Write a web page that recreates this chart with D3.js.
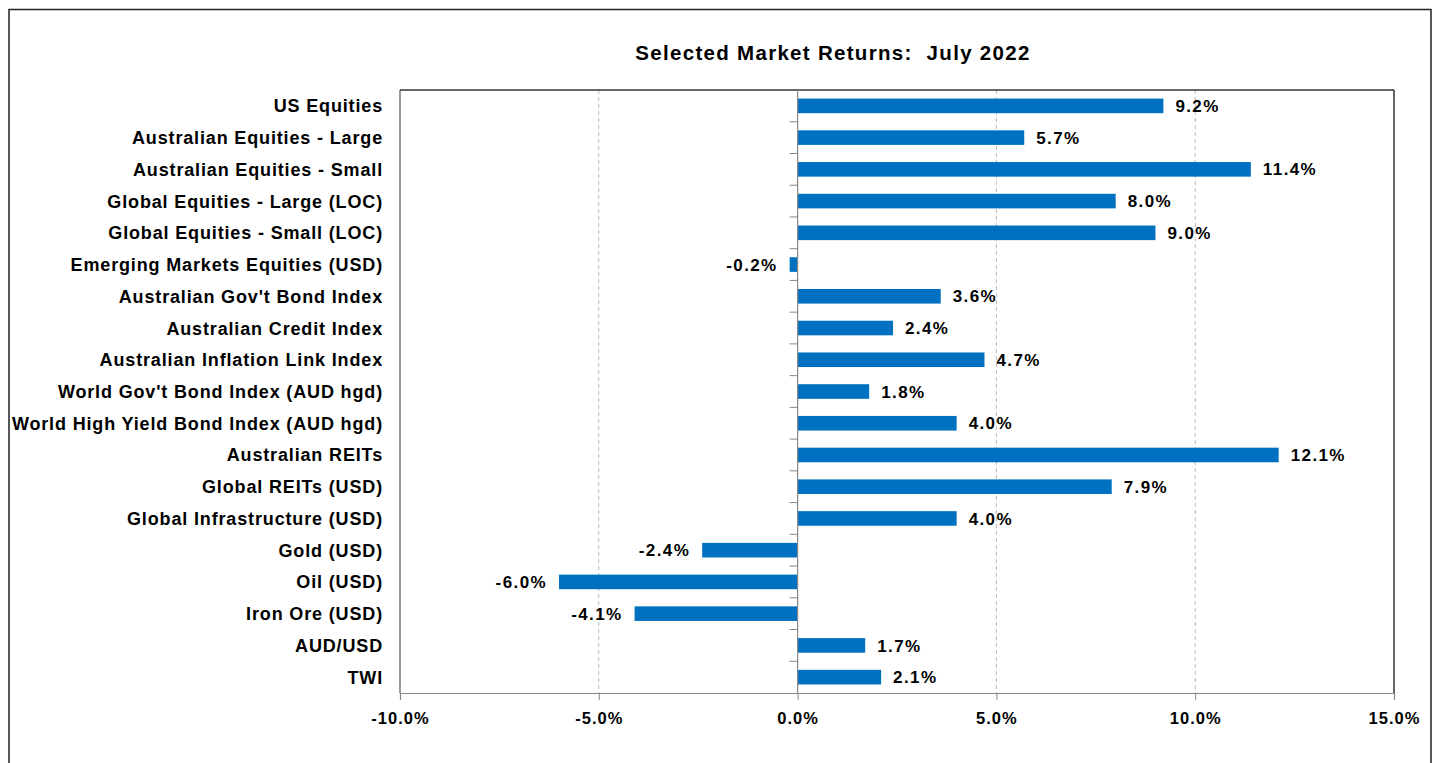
<!DOCTYPE html>
<html>
<head>
<meta charset="utf-8">
<script src="https://cdn.jsdelivr.net/npm/d3@7"></script>
<style>
  body { margin: 0; background: #fff; }
  text { font-family: "Liberation Sans", Arial, sans-serif; font-weight: bold; fill: #000; }
</style>
</head>
<body>
<div id="chart"></div>
<script>
// Chart data
const categories = [
    "US Equities", "Australian Equities - Large", "Australian Equities - Small",
    "Global Equities - Large (LOC)", "Global Equities - Small (LOC)",
    "Emerging Markets Equities (USD)", "Australian Gov't Bond Index",
    "Australian Credit Index", "Australian Inflation Link Index",
    "World Gov't Bond Index (AUD hgd)", "World High Yield Bond Index (AUD hgd)",
    "Australian REITs", "Global REITs (USD)", "Global Infrastructure (USD)",
    "Gold (USD)", "Oil (USD)", "Iron Ore (USD)", "AUD/USD", "TWI"
]
const returns = [9.2, 5.7, 11.4, 8.0, 9.0, -0.2, 3.6, 2.4, 4.7, 1.8, 4.0, 12.1, 7.9, 4.0, -2.4, -6.0, -4.1, 1.7, 2.1]
const xTicks = [-10, -5, 0, 5, 10, 15]
const title = "Selected Market Returns:  July 2022"

const W = 1437, H = 763
const plot = { left: 400, right: 1394, top: 90, bottom: 693 }

const svg = d3.select("#chart").append("svg")
    .attr("width", W)
    .attr("height", H)

// Outer chart border
svg.append("rect")
    .attr("x", 9).attr("y", 9.5)
    .attr("width", 1422).attr("height", 780)
    .attr("fill", "none")
    .attr("stroke", "#222")
    .attr("stroke-width", 1.5)

// Title
svg.append("text")
    .attr("x", 833).attr("y", 60)
    .attr("text-anchor", "middle")
    .style("font-size", "20.5px")
    .style("letter-spacing", "1.3px")
    .style("white-space", "pre")
    .text(title)

// Scales
const x = d3.scaleLinear().domain([-10, 15]).range([plot.left, plot.right])
const y = d3.scaleBand().domain(categories).range([plot.top, plot.bottom]).paddingInner(0.54).paddingOuter(0.27)
const band = d3.scaleBand().domain(categories).range([plot.top, plot.bottom])

// Dashed gridlines
svg.append("g").selectAll("line")
    .data(xTicks.filter(d => d !== 0 && d !== -10 && d !== 15))
    .enter().append("line")
    .attr("x1", d => x(d)).attr("x2", d => x(d))
    .attr("y1", plot.top).attr("y2", plot.bottom)
    .attr("stroke", "#bbb")
    .attr("stroke-dasharray", "4,3")

// Plot area frame: dark top and right, grey left
svg.append("line").attr("x1", plot.left).attr("x2", plot.right).attr("y1", plot.top).attr("y2", plot.top)
    .attr("stroke", "#333").attr("stroke-width", 1.5)
svg.append("line").attr("x1", plot.right).attr("x2", plot.right).attr("y1", plot.top).attr("y2", plot.bottom)
    .attr("stroke", "#333").attr("stroke-width", 1.5)
svg.append("line").attr("x1", plot.left).attr("x2", plot.left).attr("y1", plot.top).attr("y2", plot.bottom)
    .attr("stroke", "#555").attr("stroke-width", 1.2)

// Bars
svg.append("g").selectAll("rect")
    .data(categories)
    .enter().append("rect")
    .attr("x", (d, i) => x(Math.min(0, returns[i])))
    .attr("y", d => y(d))
    .attr("width", (d, i) => Math.abs(x(returns[i]) - x(0)))
    .attr("height", y.bandwidth())
    .attr("fill", "#0070C0")

// Value labels
svg.append("g").selectAll("text")
    .data(categories)
    .enter().append("text")
    .attr("x", (d, i) => returns[i] >= 0 ? x(returns[i]) + 12 : x(returns[i]) - 12)
    .attr("y", d => y(d) + y.bandwidth() / 2)
    .attr("dy", "0.36em")
    .attr("text-anchor", (d, i) => returns[i] >= 0 ? "start" : "end")
    .style("font-size", "17px")
    .style("letter-spacing", "1.4px")
    .text((d, i) => returns[i].toFixed(1) + "%")

// Vertical axis at zero, ticks at band boundaries
svg.append("line").attr("x1", x(0)).attr("x2", x(0)).attr("y1", plot.top).attr("y2", plot.bottom)
    .attr("stroke", "#888").attr("stroke-width", 1.2)
svg.append("g").selectAll("line")
    .data(categories.slice(1))
    .enter().append("line")
    .attr("x1", x(0) - 8).attr("x2", x(0))
    .attr("y1", d => band(d)).attr("y2", d => band(d))
    .attr("stroke", "#888")

// Category labels
svg.append("g").selectAll("text")
    .data(categories)
    .enter().append("text")
    .attr("x", 383)
    .attr("y", d => band(d) + band.bandwidth() / 2)
    .attr("dy", "0.36em")
    .attr("text-anchor", "end")
    .style("font-size", "18px")
    .style("letter-spacing", "0.85px")
    .text(d => d)

// Bottom axis
const xAxis = svg.append("g")
    .attr("transform", `translate(0,${plot.bottom})`)
    .call(d3.axisBottom(x).tickValues(xTicks).tickSize(7).tickFormat(d => d.toFixed(1) + "%"))
xAxis.select(".domain").attr("stroke", "#888").attr("stroke-width", 1.2)
xAxis.selectAll(".tick line").attr("stroke", "#888")
xAxis.selectAll(".tick text")
    .attr("y", 19)
    .style("font-size", "16.5px")
    .style("letter-spacing", "1px")
    .style("font-family", "'Liberation Sans', Arial, sans-serif")
    .style("font-weight", "bold")
    .attr("fill", "#000")
</script>
</body>
</html>
